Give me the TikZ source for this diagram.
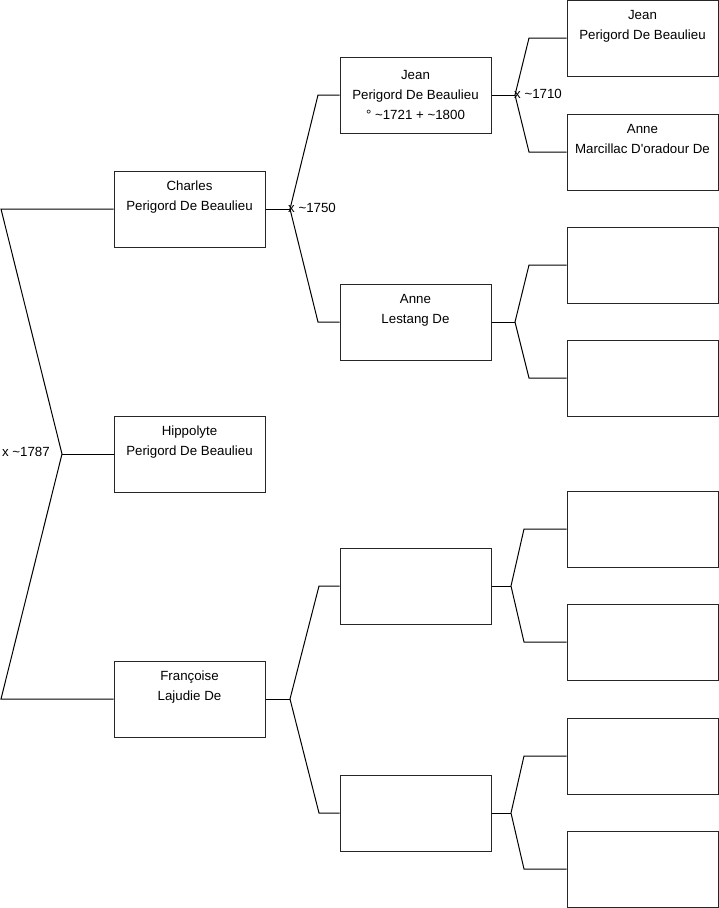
\documentclass[tikz,border=0pt]{standalone}
\usepackage{fontspec}
\setmainfont{Liberation Sans}
\usepackage{tikz}

\begin{document}
\begin{tikzpicture}[
          x=1pt, y=-1pt,
          person/.style={draw=black!85, line width=1pt, minimum width=151pt,
                         minimum height=76pt, inner sep=0pt, align=center,
                         font=\fontsize{13.3}{20.3}\selectfont},
          link/.style={line width=1pt},
          wed/.style={font=\fontsize{13.3}{15}\selectfont, inner sep=0pt}
      ]
        \useasboundingbox (0,0) rectangle (719,908);

        % Generation 1
        \node[person] (charles) at (189.5,209) {Charles\\Perigord De Beaulieu\\\strut};
        \node[person, yshift=0pt] (hippo) at (189.5,454) {Hippolyte\\Perigord De Beaulieu\\\strut};
        \node[person] (franc)   at (189.5,699) {Françoise\\Lajudie De\\\strut};

        % Generation 2
        \node[person] (jean) at (415.5,95) {Jean\\Perigord De Beaulieu\\° \textasciitilde1721 + \textasciitilde1800};
        \node[person] (anne) at (415.5,322) {Anne\\Lestang De\\\strut};
        \node[person] (g2c)  at (415.5,586) {};
        \node[person] (g2d)  at (415.5,813) {};

        % Generation 3
        \node[person] (g3a) at (642.5,38) {Jean\\Perigord De Beaulieu\\\strut};
        \node[person] (g3b) at (642.5,152) {Anne\\Marcillac D\textquotesingle oradour De\\\strut};
        \foreach \n/\y in {c/265, d/378, e/529, f/642, g/756, h/869}
          \node[person] (g3\n) at (642.5,\y) {};

        % Couple: x ~1787
        \coordinate (w1787) at (62,454);
        \draw[link] (charles.west) -- (charles.west -| 1,0) -- (w1787)
                    -- (franc.west -| 1,0) -- (franc.west);
        \draw[link] (hippo.west) -- (w1787);
        \node[wed, anchor=east] (l1787) at (50,452) {x \textasciitilde1787};

        % Couple: x ~1750
        \coordinate (w1750) at (290,209);
        \draw[link] (charles.east) -- (w1750);
        \draw[link] (jean.west) -- (jean.west -| 318,0) -- (w1750)
                    -- (anne.west -| 318,0) -- (anne.west);
        \node[wed, anchor=west] (l1750) at (288,208) {x \textasciitilde1750};

        % Parents of Francoise
        \coordinate (wfr) at (290,699);
        \draw[link] (franc.east) -- (wfr);
        \draw[link] (g2c.west) -- (g2c.west -| 319,0) -- (wfr)
                    -- (g2d.west -| 319,0) -- (g2d.west);

        % Couple: x ~1710
        \coordinate (w1710) at (515,95);
        \draw[link] (jean.east) -- (w1710);
        \draw[link] (g3a.west) -- (g3a.west -| 529,0) -- (w1710)
                    -- (g3b.west -| 529,0) -- (g3b.west);
        \node[wed, anchor=west] (l1710) at (514,94) {x \textasciitilde1710};

        % Parents of Anne
        \coordinate (wan) at (515,322);
        \draw[link] (anne.east) -- (wan);
        \draw[link] (g3c.west) -- (g3c.west -| 529,0) -- (wan)
                    -- (g3d.west -| 529,0) -- (g3d.west);

        % Unknown couples
        \coordinate (wc) at (511,586);
        \draw[link] (g2c.east) -- (wc);
        \draw[link] (g3e.west) -- (g3e.west -| 524,0) -- (wc)
                    -- (g3f.west -| 524,0) -- (g3f.west);

        \coordinate (wd) at (511,813);
        \draw[link] (g2d.east) -- (wd);
        \draw[link] (g3g.west) -- (g3g.west -| 524,0) -- (wd)
                    -- (g3h.west -| 524,0) -- (g3h.west);
      \end{tikzpicture}
\end{document}
